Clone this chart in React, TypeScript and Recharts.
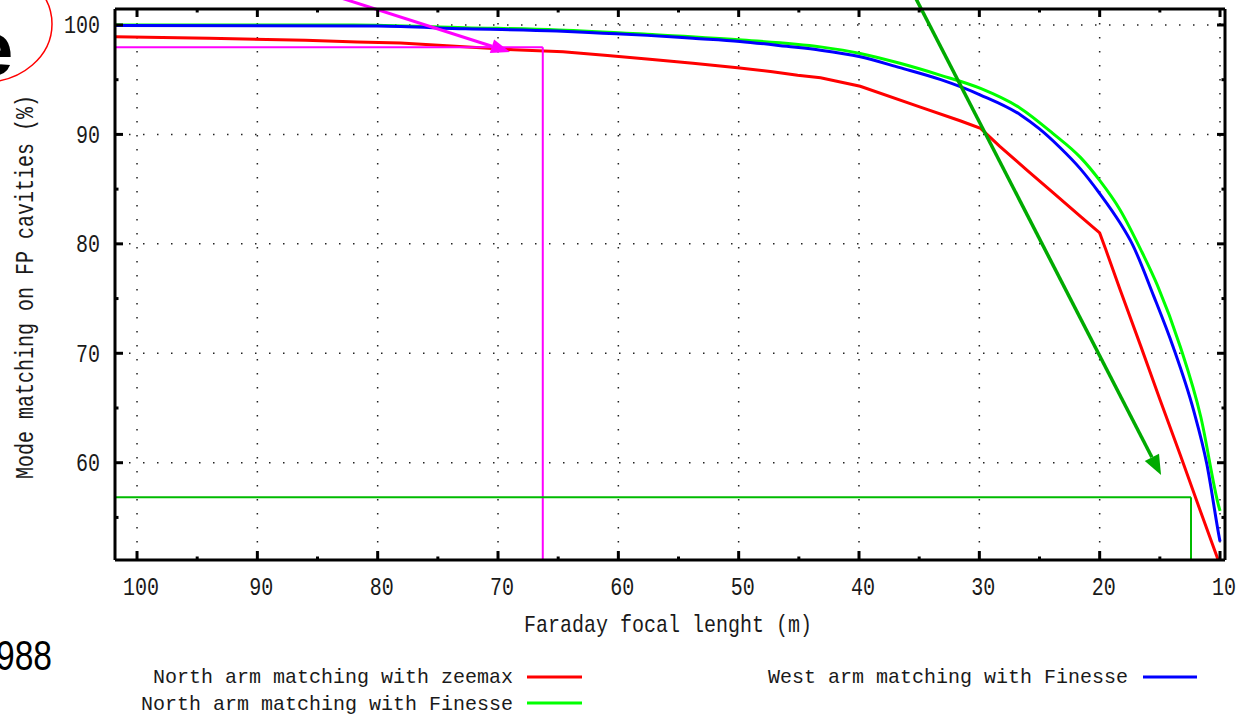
import React from 'react'
import { LineChart, Line, XAxis, YAxis, CartesianGrid, ReferenceLine } from 'recharts'

// Faraday focal length (m) samples and mode matching (%) per curve
const focalZeemax = [101.8, 94, 86, 81.7, 78.1, 73.2, 68.7, 64.6, 60.9, 57.4, 53.8, 50.1, 47.2, 45.1, 43.2, 39.9, 34.9, 31.6, 29.9, 28.3, 26.0, 23.9, 21.6, 20.0, 19.5, 18.3, 16.6, 15.0, 13.3, 11.9, 10.25, 10.0]
const northZeemax = [98.93, 98.78, 98.6, 98.45, 98.36, 98.03, 97.74, 97.56, 97.2, 96.86, 96.5, 96.1, 95.73, 95.4, 95.18, 94.4, 92.5, 91.25, 90.55, 88.9, 86.7, 84.7, 82.5, 81.0, 79.5, 75.8, 70.7, 65.8, 60.7, 56.4, 51.4, 50.6]

const focalNorth = [101.8, 82, 72.7, 65.0, 57.6, 50.0, 43.2, 39.9, 36.6, 33.2, 29.9, 26.6, 23.9, 21.6, 20.0, 18.3, 16.6, 15.2, 13.3, 11.6, 10.1, 10.0]
const northFinesse = [100.0, 100.0, 99.75, 99.55, 99.15, 98.65, 98.0, 97.4, 96.5, 95.4, 94.2, 92.4, 90.1, 87.9, 85.8, 83.1, 79.5, 76.2, 70.6, 64.2, 56.0, 55.6]

const focalWest = [101.8, 80, 72.7, 65.1, 61.3, 57.6, 53.8, 49.9, 46.0, 43.2, 39.9, 36.6, 33.2, 29.9, 26.6, 25.0, 23.3, 21.6, 20.0, 18.3, 17.3, 15.5, 13.9, 12.2, 11.1, 10.1, 10.0]
const westFinesse = [99.95, 99.9, 99.65, 99.45, 99.25, 99.05, 98.78, 98.5, 98.05, 97.7, 97.1, 96.1, 95.0, 93.6, 91.8, 90.5, 88.8, 86.85, 84.6, 81.9, 80.0, 75.2, 70.6, 64.8, 59.9, 53.4, 52.8]

const xTicks = [100, 95, 90, 85, 80, 75, 70, 65, 60, 55, 50, 45, 40, 35, 30, 25, 20, 15, 10]
const yTicks = [55, 60, 65, 70, 75, 80, 85, 90, 95, 100]
const xGrid = [100, 90, 80, 70, 60, 50, 40, 30, 20, 10]
const yGrid = [60, 70, 80, 90, 100]
const xDomain = [9.585, 101.83]
const yDomain = [51.11, 101.46]

// hand-drawn annotations: [x, y] in data units
const magentaCorner = [66.28, 97.96]
const greenCorner = [12.41, 56.84]
const magentaArrow = [[87.87, 104.16], [69.0, 97.53]]
const greenArrow = [[36.09, 104.16], [14.9, 58.87]]

const legendItems = [
  { name: 'North arm matching with zeemax', color: '#ff0000' },
  { name: 'North arm matching with Finesse', color: '#00ff00' },
  { name: 'West arm matching with Finesse', color: '#0000ff' },
]

const zip = (xs: number[], ys: number[]) => xs.map((x, i) => ({ x, y: ys[i] }))

const MONO = '"Liberation Mono", "DejaVu Sans Mono", monospace'

const BottomTick = ({ x, y, payload }: any) => {
  const major = payload.value % 10 === 0
  return (
    <g>
      <line x1={x} x2={x} y1={y} y2={y - (major ? 9 : 3.5)} stroke="#000" strokeWidth={3} />
      {major && (
        <text transform={`translate(${x + 4},${y + 35}) scale(1,1.28)`} textAnchor="middle" fontFamily={MONO} fontSize={20} fill="#1a1a1a">
          {payload.value}
        </text>
      )}
    </g>
  )
}

const TopTick = ({ x, y, payload }: any) => {
  const major = payload.value % 10 === 0
  return <line x1={x} x2={x} y1={y} y2={y + (major ? 8 : 3.5)} stroke="#000" strokeWidth={3} />
}

const LeftTick = ({ x, y, payload }: any) => {
  const major = payload.value % 10 === 0
  return (
    <g>
      <line x1={x} x2={x + (major ? 8 : 3.5)} y1={y} y2={y} stroke="#000" strokeWidth={3} />
      {major && (
        <text transform={`translate(${x - 15},${y + 8.5}) scale(1,1.28)`} textAnchor="end" fontFamily={MONO} fontSize={20} fill="#1a1a1a">
          {payload.value}
        </text>
      )}
    </g>
  )
}

const RightTick = ({ x, y, payload }: any) => {
  const major = payload.value % 10 === 0
  return <line x1={x} x2={x - (major ? 8 : 3.5)} y1={y} y2={y} stroke="#000" strokeWidth={3} />
}

const arrowShape = (color: string, width: number, headLen: number, headHalf: number) => (p: any) => {
  const { x1, y1, x2, y2 } = p
  const dx = x2 - x1
  const dy = y2 - y1
  const len = Math.hypot(dx, dy) || 1
  const ux = dx / len
  const uy = dy / len
  const bx = x2 - ux * headLen
  const by = y2 - uy * headLen
  return (
    <g>
      <line x1={x1} y1={y1} x2={bx} y2={by} stroke={color} strokeWidth={width} />
      <polygon
        points={`${x2},${y2} ${bx - uy * headHalf},${by + ux * headHalf} ${bx + uy * headHalf},${by - ux * headHalf}`}
        fill={color}
      />
    </g>
  )
}

const axisLine = { stroke: '#000', strokeWidth: 3 }

export default function App() {
  return (
    <div style={{ position: 'absolute', left: 0, top: 0, width: 1241, height: 716, background: '#fff', overflow: 'hidden' }}>
      <LineChart width={1241} height={716} margin={{ top: 4, right: 11, bottom: 116, left: 55 }}>
        <CartesianGrid
          horizontalValues={yGrid}
          verticalValues={xGrid}
          stroke="#222"
          strokeWidth={1.5}
          strokeDasharray="1.5 12.5"
        />
        <XAxis
          dataKey="x"
          type="number"
          domain={xDomain}
          reversed
          allowDataOverflow
          ticks={xTicks}
          interval={0}
          height={40}
          tickSize={0}
          tickMargin={0}
          tickLine={false}
          axisLine={axisLine}
          tick={(p: any) => <BottomTick {...p} />}
        />
        <XAxis
          xAxisId="top"
          orientation="top"
          dataKey="x"
          type="number"
          domain={xDomain}
          reversed
          allowDataOverflow
          ticks={xTicks}
          interval={0}
          height={5}
          tickSize={0}
          tickMargin={0}
          tickLine={false}
          axisLine={axisLine}
          tick={(p: any) => <TopTick {...p} />}
        />
        <YAxis
          type="number"
          domain={yDomain}
          allowDataOverflow
          ticks={yTicks}
          interval={0}
          width={60}
          tickSize={0}
          tickMargin={0}
          tickLine={false}
          axisLine={axisLine}
          tick={(p: any) => <LeftTick {...p} />}
        />
        <YAxis
          yAxisId="right"
          orientation="right"
          type="number"
          domain={yDomain}
          allowDataOverflow
          ticks={yTicks}
          interval={0}
          width={5}
          tickSize={0}
          tickMargin={0}
          tickLine={false}
          axisLine={axisLine}
          tick={(p: any) => <RightTick {...p} />}
        />
        <Line data={zip(focalZeemax, northZeemax)} dataKey="y" type="linear" stroke="#ff0000" strokeWidth={3} dot={false} activeDot={false} isAnimationActive={false} />
        <Line data={zip(focalNorth, northFinesse)} dataKey="y" type="monotone" stroke="#00ff00" strokeWidth={3} dot={false} activeDot={false} isAnimationActive={false} />
        <Line data={zip(focalWest, westFinesse)} dataKey="y" type="monotone" stroke="#0000ff" strokeWidth={3} dot={false} activeDot={false} isAnimationActive={false} />

        <ReferenceLine segment={[{ x: xDomain[1], y: magentaCorner[1] }, { x: magentaCorner[0], y: magentaCorner[1] }]} stroke="#ff00ff" strokeWidth={2} ifOverflow="visible" />
        <ReferenceLine segment={[{ x: magentaCorner[0], y: magentaCorner[1] }, { x: magentaCorner[0], y: yDomain[0] }]} stroke="#ff00ff" strokeWidth={2} ifOverflow="visible" />
        <ReferenceLine segment={[{ x: xDomain[1], y: greenCorner[1] }, { x: greenCorner[0], y: greenCorner[1] }]} stroke="#00bb00" strokeWidth={2} ifOverflow="visible" />
        <ReferenceLine segment={[{ x: greenCorner[0], y: greenCorner[1] }, { x: greenCorner[0], y: yDomain[0] }]} stroke="#00bb00" strokeWidth={2} ifOverflow="visible" />
        <ReferenceLine
          segment={[{ x: magentaArrow[0][0], y: magentaArrow[0][1] }, { x: magentaArrow[1][0], y: magentaArrow[1][1] }]}
          ifOverflow="visible"
          shape={arrowShape('#ff00ff', 3, 19, 7)}
        />
        <ReferenceLine
          segment={[{ x: greenArrow[0][0], y: greenArrow[0][1] }, { x: greenArrow[1][0], y: greenArrow[1][1] }]}
          ifOverflow="visible"
          shape={arrowShape('#00aa00', 3.5, 20, 8)}
        />
      </LineChart>

      <svg width={1241} height={716} style={{ position: 'absolute', left: 0, top: 0, pointerEvents: 'none' }}>
        {/* cropped slide decorations */}
        <ellipse cx={-15} cy={24} rx={67} ry={58} fill="none" stroke="#ff0000" strokeWidth={1.5} />
        <text x={-29} y={75} fontFamily='"Liberation Sans", Arial, sans-serif' fontWeight="bold" fontSize={76} fill="#000">e</text>
        <text transform="translate(-4,670) scale(0.8,1)" fontFamily='"Liberation Sans", Arial, sans-serif' fontSize={42} fill="#000">988</text>

        {/* axis titles */}
        <text transform="translate(33,287) rotate(-90) scale(1,1.25)" textAnchor="middle" fontFamily={MONO} fontSize={20} fill="#1a1a1a">
          Mode matching on FP cavities (%)
        </text>
        <text transform="translate(668,632) scale(1,1.2)" textAnchor="middle" fontFamily={MONO} fontSize={20} fill="#1a1a1a">
          Faraday focal lenght (m)
        </text>

        {/* legend */}
        <text transform="translate(513,683) scale(1,1.05)" textAnchor="end" fontFamily={MONO} fontSize={20} fill="#1a1a1a">{legendItems[0].name}</text>
        <line x1={527} x2={582} y1={677} y2={677} stroke={legendItems[0].color} strokeWidth={3} />
        <text transform="translate(513,710) scale(1,1.05)" textAnchor="end" fontFamily={MONO} fontSize={20} fill="#1a1a1a">{legendItems[1].name}</text>
        <line x1={527} x2={582} y1={703} y2={703} stroke={legendItems[1].color} strokeWidth={3} />
        <text transform="translate(1128,683) scale(1,1.05)" textAnchor="end" fontFamily={MONO} fontSize={20} fill="#1a1a1a">{legendItems[2].name}</text>
        <line x1={1143} x2={1197} y1={677} y2={677} stroke={legendItems[2].color} strokeWidth={3} />
      </svg>
    </div>
  )
}
